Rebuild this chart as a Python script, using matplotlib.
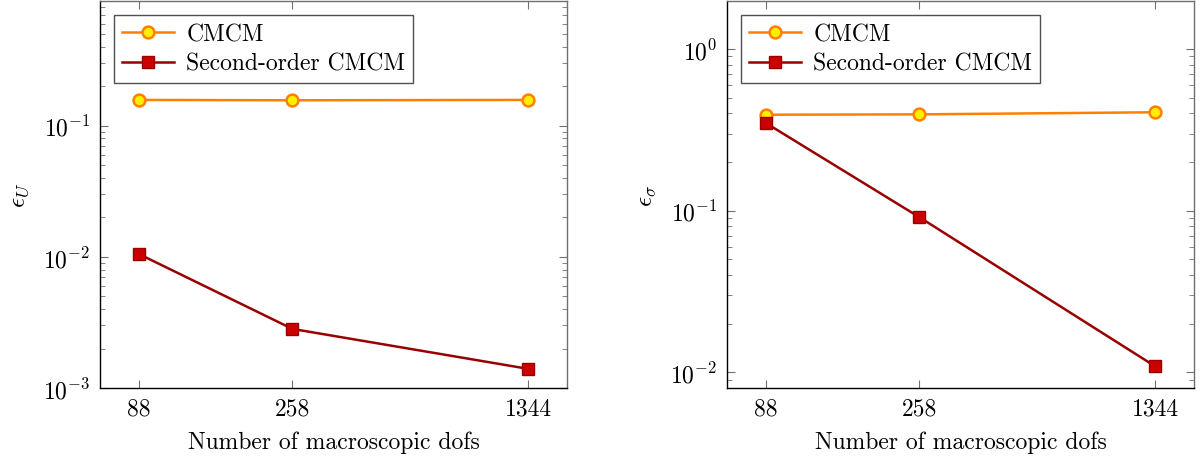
import numpy as np
import matplotlib
matplotlib.use('Agg')
import matplotlib.pyplot as plt
from matplotlib.ticker import LogLocator, NullLocator, FixedLocator, FixedFormatter

plt.rcParams['font.family'] = ['cmr10']
plt.rcParams['mathtext.fontset'] = 'cm'
plt.rcParams['axes.formatter.use_mathtext'] = True
plt.rcParams['font.size'] = 17

# datos
dofs = [88, 258, 1344]
dof_labels = ['88', '258', '1344']
err_u_cmcm = [0.157, 0.156, 0.157]
err_u_second = [0.0105, 0.00282, 0.0014]
err_s_cmcm = [0.392, 0.394, 0.406]
err_s_second = [0.348, 0.091, 0.0109]

orange = '#ff8000'
yellow = '#ffee00'
darkred = '#990000'
red = '#cc0000'

fig = plt.figure(figsize=(12, 4.6), dpi=100)
ax1 = fig.add_axes([100 / 1200, 71 / 460, 467 / 1200, 387 / 460])
ax2 = fig.add_axes([727 / 1200, 71 / 460, 467 / 1200, 387 / 460])

panels = [
    (ax1, err_u_cmcm, err_u_second, r'$\epsilon_U$', (1e-3, 0.891)),
    (ax2, err_s_cmcm, err_s_second, r'$\epsilon_\sigma$', (0.008, 1.98)),
]

lx = np.log10(dofs)
pad = 0.1 * (lx[-1] - lx[0])
xlim = (10 ** (lx[0] - pad), 10 ** (lx[-1] + pad))

for ax, ya, yb, ylab, ylim in panels:
    ax.plot(dofs, ya, color=orange, lw=1.8, marker='o', ms=8.5,
            mfc=yellow, mec=orange, mew=1.8, label='CMCM')
    ax.plot(dofs, yb, color=darkred, lw=1.8, marker='s', ms=9,
            mfc=red, mec=darkred, mew=1.0, label='Second-order CMCM')
    ax.set_xscale('log')
    ax.set_yscale('log')
    ax.set_xlim(xlim)
    ax.set_ylim(ylim)
    ax.xaxis.set_major_locator(FixedLocator(dofs))
    ax.xaxis.set_major_formatter(FixedFormatter(dof_labels))
    ax.xaxis.set_minor_locator(NullLocator())
    ax.yaxis.set_major_locator(LogLocator(base=10, numticks=10))
    ax.yaxis.set_minor_locator(LogLocator(base=10, subs=np.arange(2, 10), numticks=10))
    ax.tick_params(which='both', direction='in', top=True, right=True,
                   color='#707070', labelsize=17)
    ax.tick_params(which='major', length=6, width=0.8, pad=7)
    ax.tick_params(which='minor', length=3.5, width=0.6)
    for s in ['left', 'bottom']:
        ax.spines[s].set_color('black')
        ax.spines[s].set_linewidth(1.0)
    for s in ['top', 'right']:
        ax.spines[s].set_color('#707070')
        ax.spines[s].set_linewidth(1.0)
    ax.set_xlabel('Number of macroscopic dofs', fontsize=17, labelpad=8)
    ax.set_ylabel(ylab, fontsize=18, labelpad=9)
    leg = ax.legend(loc='upper left', fontsize=17, fancybox=False, framealpha=1,
                    edgecolor='#505050', borderaxespad=0.6, handlelength=2.2,
                    borderpad=0.35, labelspacing=0.3, handletextpad=0.5)
    leg.get_frame().set_linewidth(1.0)

fig.savefig('out.png', dpi=100)
